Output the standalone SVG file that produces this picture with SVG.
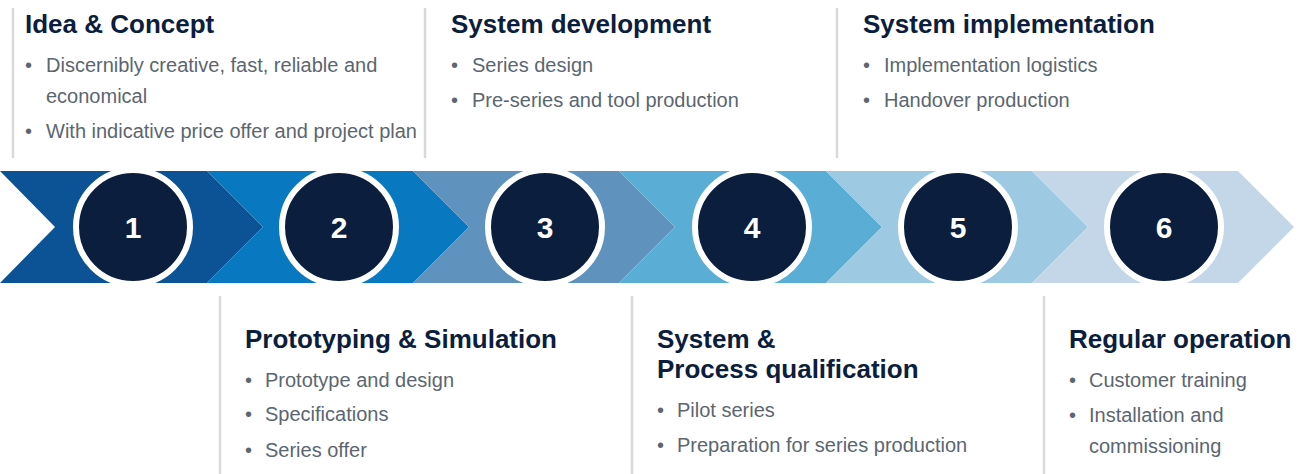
<svg xmlns="http://www.w3.org/2000/svg" width="1306" height="474" viewBox="0 0 1306 474">
<style>
.title{font-family:"Liberation Sans",Arial,sans-serif;font-weight:bold;font-size:26px;fill:#0b1e3d}
.item{font-family:"Liberation Sans",Arial,sans-serif;font-size:20px;fill:#5b6670}
.num{font-family:"Liberation Sans",Arial,sans-serif;font-weight:bold;font-size:30px;fill:#ffffff;text-anchor:middle}
.sep{stroke:#d9d9d9;stroke-width:2.5}
.disc{fill:#0b1e3d;stroke:#ffffff;stroke-width:6}
</style>
<rect width="1306" height="474" fill="#ffffff"/>
<g id="band">
<polygon points="0,171 207,171 263,227 207,283 0,283 55,227" fill="#0b5394"/>
<polygon points="207,171 413,171 469,227 413,283 207,283 263,227" fill="#0879c1"/>
<polygon points="413,171 619,171 675,227 619,283 413,283 469,227" fill="#5f92bd"/>
<polygon points="619,171 826,171 882,227 826,283 619,283 675,227" fill="#5aadd4"/>
<polygon points="826,171 1032,171 1088,227 1032,283 826,283 882,227" fill="#9dc9e3"/>
<polygon points="1032,171 1238,171 1294,227 1238,283 1032,283 1088,227" fill="#c3d7e8"/>
</g>
<g id="connectors">
<line class="sep" x1="13" y1="8" x2="13" y2="158"/>
<line class="sep" x1="425" y1="8" x2="425" y2="158"/>
<line class="sep" x1="837" y1="8" x2="837" y2="158"/>
<line class="sep" x1="220" y1="296" x2="220" y2="474"/>
<line class="sep" x1="632" y1="296" x2="632" y2="474"/>
<line class="sep" x1="1044" y1="296" x2="1044" y2="474"/>
</g>
<g id="step1"><circle class="disc" cx="133" cy="227" r="57"/><text class="num" x="133" y="238">1</text></g>
<g id="step2"><circle class="disc" cx="339" cy="227" r="57"/><text class="num" x="339" y="238">2</text></g>
<g id="step3"><circle class="disc" cx="545" cy="227" r="57"/><text class="num" x="545" y="238">3</text></g>
<g id="step4"><circle class="disc" cx="752" cy="227" r="57"/><text class="num" x="752" y="238">4</text></g>
<g id="step5"><circle class="disc" cx="958" cy="227" r="57"/><text class="num" x="958" y="238">5</text></g>
<g id="step6"><circle class="disc" cx="1164" cy="227" r="57"/><text class="num" x="1164" y="238">6</text></g>
<g id="idea">
<text class="title" x="25" y="33">Idea &amp; Concept</text>
<text class="item" x="25" y="72">•</text><text class="item" x="46" y="72">Discernibly creative, fast, reliable and</text>
<text class="item" x="46" y="103">economical</text>
<text class="item" x="25" y="138">•</text><text class="item" x="46" y="138">With indicative price offer and project plan</text>
</g>
<g id="sysdev">
<text class="title" x="451" y="33">System development</text>
<text class="item" x="451" y="72">•</text><text class="item" x="472" y="72">Series design</text>
<text class="item" x="451" y="107">•</text><text class="item" x="472" y="107">Pre-series and tool production</text>
</g>
<g id="sysimpl">
<text class="title" x="863" y="33">System implementation</text>
<text class="item" x="863" y="72">•</text><text class="item" x="884" y="72">Implementation logistics</text>
<text class="item" x="863" y="107">•</text><text class="item" x="884" y="107">Handover production</text>
</g>
<g id="proto">
<text class="title" x="245" y="348">Prototyping &amp; Simulation</text>
<text class="item" x="245" y="387">•</text><text class="item" x="265" y="387">Prototype and design</text>
<text class="item" x="245" y="421">•</text><text class="item" x="265" y="421">Specifications</text>
<text class="item" x="245" y="457">•</text><text class="item" x="265" y="457">Series offer</text>
</g>
<g id="qual">
<text class="title" x="657" y="348">System &amp;</text>
<text class="title" x="657" y="378">Process qualification</text>
<text class="item" x="657" y="417">•</text><text class="item" x="677" y="417">Pilot series</text>
<text class="item" x="657" y="452">•</text><text class="item" x="677" y="452">Preparation for series production</text>
</g>
<g id="regular">
<text class="title" x="1069" y="348">Regular operation</text>
<text class="item" x="1069" y="387">•</text><text class="item" x="1089" y="387">Customer training</text>
<text class="item" x="1069" y="422">•</text><text class="item" x="1089" y="422">Installation and</text>
<text class="item" x="1089" y="453">commissioning</text>
</g>
</svg>
